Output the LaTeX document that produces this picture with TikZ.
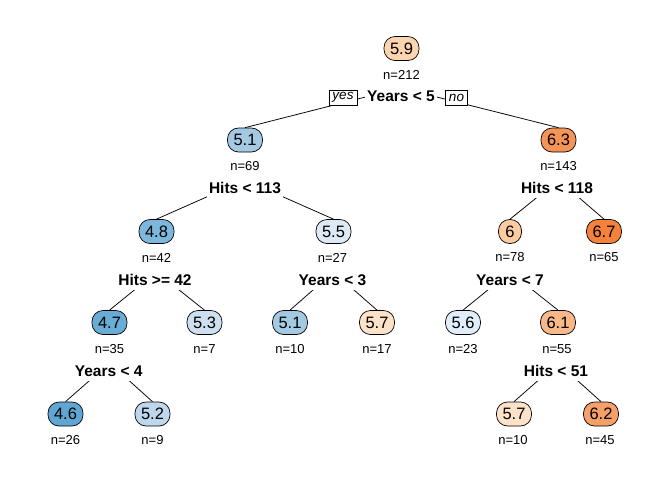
\documentclass[tikz,border=0pt]{standalone}
\usepackage{fontspec}
\setmainfont{Liberation Sans}
\usetikzlibrary{backgrounds}
\definecolor{c46}{HTML}{5FA6D3}
\definecolor{c47}{HTML}{69ACD6}
\definecolor{c48}{HTML}{7DB8DC}
\definecolor{c51}{HTML}{A4CAE3}
\definecolor{c52}{HTML}{BFD7EC}
\definecolor{c53}{HTML}{CEE0F0}
\definecolor{c55}{HTML}{DDEAF6}
\definecolor{c56}{HTML}{E1EDF8}
\definecolor{c57}{HTML}{FDE2CA}
\definecolor{c59}{HTML}{FCD4B0}
\definecolor{c60}{HTML}{FDCBA2}
\definecolor{c61}{HTML}{F9B88A}
\definecolor{c62}{HTML}{F6A069}
\definecolor{c63}{HTML}{F59457}
\definecolor{c67}{HTML}{F4823A}
\begin{document}
\begin{tikzpicture}[x=1pt,y=-1pt,
  leaf/.style={draw=black, line width=0.7pt, rounded corners=11pt, minimum height=24pt,
    minimum width=23pt, inner xsep=6pt, inner ysep=0pt, font=\fontsize{16.5}{17}\selectfont},
  ncount/.style={font=\fontsize{13}{14}\selectfont, inner sep=1pt},
  splitlab/.style={fill=white, inner xsep=2pt, inner ysep=4.5pt, font=\bfseries\fontsize{15.5}{16}\selectfont},
  yn/.style={draw=black, fill=white, line width=0.6pt, font=\itshape\fontsize{13.5}{14}\selectfont,
    inner xsep=3.5pt, inner ysep=0pt, minimum height=15pt},
  branch/.style={line width=0.75pt, draw=black}
]
\useasboundingbox (0,0) rectangle (672,480);

% level 0
\node[leaf, fill=c59] (n1) at (401.5,48.5) {5.9};
\node[ncount] (n1c) at (401.5,74.5) {n=212};
\node[splitlab] (s1) at (401,96.5) {Years < 5};
\coordinate (s1o) at (401,88);

% level 1
\node[leaf, fill=c51] (n2) at (245,140) {5.1};
\node[ncount] (n2c) at (245,166) {n=69};
\node[splitlab] (s2) at (245,188) {Hits < 113};
\coordinate (s2o) at (245,180);

\node[leaf, fill=c63] (n3) at (558.5,140) {6.3};
\node[ncount] (n3c) at (558.5,166) {n=143};
\node[splitlab] (s3) at (557,188) {Hits < 118};
\coordinate (s3o) at (558.5,180);

% level 2
\node[leaf, fill=c48] (n4) at (156.5,231.5) {4.8};
\node[ncount] (n4c) at (156.5,257.5) {n=42};
\node[splitlab] (s4) at (155,280) {Hits >= 42};
\coordinate (s4o) at (156.5,272);

\node[leaf, fill=c55] (n5) at (333.5,231.5) {5.5};
\node[ncount] (n5c) at (332.5,257.5) {n=27};
\node[splitlab] (s5) at (332.5,280) {Years < 3};
\coordinate (s5o) at (333.5,272);

\node[leaf, fill=c60] (n6) at (510,231.5) {6};
\node[ncount] (n6c) at (510,257.5) {n=78};
\node[splitlab] (s6) at (510,280) {Years < 7};
\coordinate (s6o) at (510,272);

\node[leaf, fill=c67] (n7) at (604,231.5) {6.7};
\node[ncount] (n7c) at (604,257.5) {n=65};

% level 3
\node[leaf, fill=c47] (n8) at (109.5,322.5) {4.7};
\node[ncount] (n8c) at (109.5,349) {n=35};
\node[splitlab] (s8) at (108.7,371) {Years < 4};
\coordinate (s8o) at (109.5,363);

\node[leaf, fill=c53] (n9) at (204.5,322.5) {5.3};
\node[ncount] (n9c) at (204.5,349) {n=7};

\node[leaf, fill=c51] (n10) at (290,322.5) {5.1};
\node[ncount] (n10c) at (290,349) {n=10};

\node[leaf, fill=c57] (n11) at (377,322.5) {5.7};
\node[ncount] (n11c) at (377,349) {n=17};

\node[leaf, fill=c56] (n12) at (463,322.5) {5.6};
\node[ncount] (n12c) at (463,349) {n=23};

\node[leaf, fill=c61] (n13) at (558,322.5) {6.1};
\node[ncount] (n13c) at (557,349) {n=55};
\node[splitlab] (s13) at (556,371) {Hits < 51};
\coordinate (s13o) at (558,363);

% level 4
\node[leaf, fill=c46] (n14) at (65.5,414) {4.6};
\node[ncount] (n14c) at (65.5,440.5) {n=26};

\node[leaf, fill=c52] (n15) at (152.5,414) {5.2};
\node[ncount] (n15c) at (152.5,440.5) {n=9};

\node[leaf, fill=c57] (n16) at (514,414) {5.7};
\node[ncount] (n16c) at (513,440.5) {n=10};

\node[leaf, fill=c62] (n17) at (601,414) {6.2};
\node[ncount] (n17c) at (600,440.5) {n=45};

% yes / no labels
\node[yn] (yes) at (343,97.5) {yes};
\node[yn] (no) at (456.5,97.5) {no};

\begin{scope}[on background layer]
\draw[branch] (s1o) -- (n2.north);
\draw[branch] (s1o) -- (n3.north);
\draw[branch] (s2o) -- (n4.north);
\draw[branch] (s2o) -- (n5.north);
\draw[branch] (s3o) -- (n6.north);
\draw[branch] (s3o) -- (n7.north);
\draw[branch] (s4o) -- (n8.north);
\draw[branch] (s4o) -- (n9.north);
\draw[branch] (s5o) -- (n10.north);
\draw[branch] (s5o) -- (n11.north);
\draw[branch] (s6o) -- (n12.north);
\draw[branch] (s6o) -- (n13.north);
\draw[branch] (s8o) -- (n14.north);
\draw[branch] (s8o) -- (n15.north);
\draw[branch] (s13o) -- (n16.north);
\draw[branch] (s13o) -- (n17.north);
\end{scope}
\end{tikzpicture}
\end{document}
